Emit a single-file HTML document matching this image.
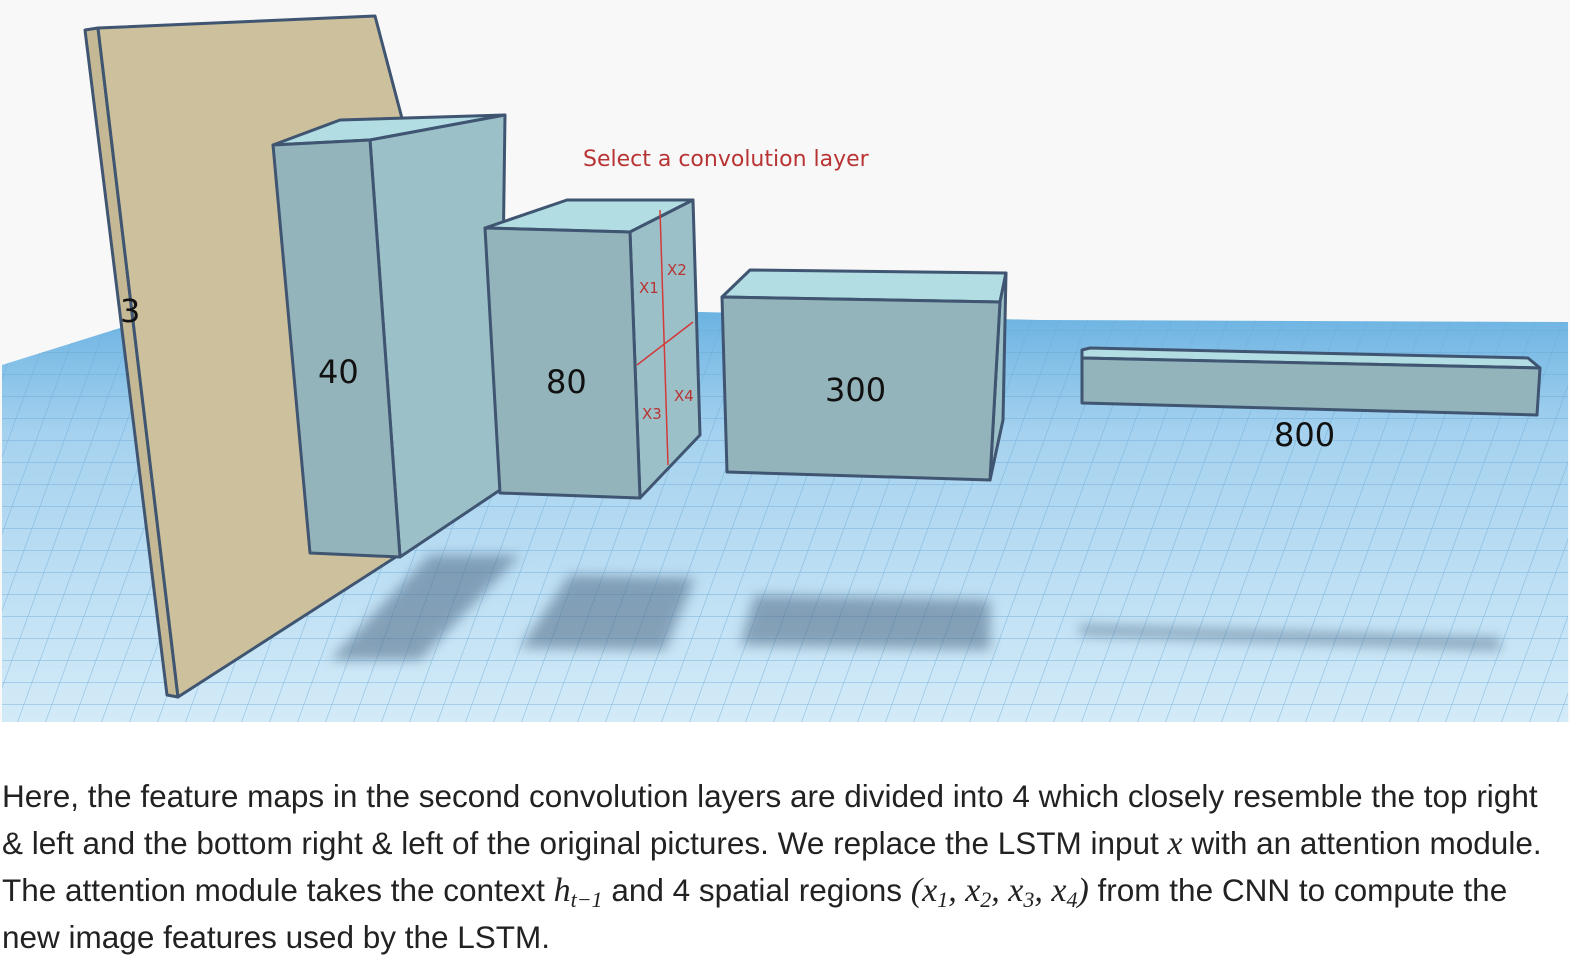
<!DOCTYPE html>
<html><head><meta charset="utf-8"><style>
body{margin:0;background:#fff;width:1592px;height:972px;overflow:hidden;font-family:"Liberation Sans",sans-serif}
.t{position:absolute;left:2px;top:773px;width:1590px;font-size:31.5px;line-height:47px;color:#222;white-space:nowrap}
i{font-family:"Liberation Serif",serif;font-size:34px}
sub{font-size:22px;line-height:0;vertical-align:-6px}
</style></head><body>
<svg width="1592" height="730" style="position:absolute;left:0;top:0">
<defs>
<linearGradient id="fl" x1="0" y1="0" x2="0" y2="1"><stop offset="0" stop-color="#6cb3e2"/><stop offset="0.3" stop-color="#a6d2ef"/><stop offset="1" stop-color="#d3ebf8"/></linearGradient>
<pattern id="gr" width="28" height="22" patternUnits="userSpaceOnUse" patternTransform="skewX(-20)"><path d="M0 0H28M0 0V22" stroke="#6aa9d6" stroke-width="1.2" fill="none" opacity="0.7"/></pattern>
<filter id="bl"><feGaussianBlur stdDeviation="6"/></filter>
</defs>
<rect x="0" y="0" width="1570" height="722" fill="#f8f8f8"/>
<polygon points="2,365 120,328 700,312 1040,320 1568,322 1568,722 2,722" fill="url(#fl)"/>
<polygon points="2,365 120,328 700,312 1040,320 1568,322 1568,722 2,722" fill="url(#gr)"/>
<g fill="#4f6a86" opacity="0.55" filter="url(#bl)">
<polygon points="430,555 520,555 420,660 330,660"/>
<polygon points="570,575 695,578 665,650 520,648"/>
<polygon points="755,595 990,600 990,650 740,645"/>
<polygon points="1080,625 1500,638 1500,650 1080,635"/>
</g>
<g stroke="#3f5571" stroke-width="3" stroke-linejoin="round">
<polygon points="85,30 98,28 178,697 167,695" fill="#c5b894"/>
<polygon points="98,28 375,16 500,490 178,697" fill="#cdc19d"/>
<polygon points="273,145 340,120 505,115 370,140" fill="#b2dde3"/>
<polygon points="370,140 505,115 500,490 400,557" fill="#9cc0c8"/>
<polygon points="273,145 370,140 400,557 310,553" fill="#93b4bb"/>
<polygon points="485,228 567,200 693,200 630,232" fill="#b2dde3"/>
<polygon points="630,232 693,200 700,435 640,498" fill="#9cc0c8"/>
<polygon points="485,228 630,232 640,498 500,493" fill="#93b4bb"/>
<polygon points="722,297 750,270 1006,273 1000,302" fill="#b2dde3"/>
<polygon points="1000,302 1006,273 1003,420 990,480" fill="#9cc0c8"/>
<polygon points="722,297 1000,302 990,480 727,472" fill="#93b4bb"/>
<polygon points="1082,350 1090,348 1528,358 1540,368 1082,358" fill="#b2dde3"/>
<polygon points="1082,358 1540,368 1537,415 1082,403" fill="#93b4bb"/>
</g>
<g stroke="#d23a3a" stroke-width="1.5"><line x1="660" y1="210" x2="668" y2="465"/><line x1="637" y1="365" x2="693" y2="322"/></g>
<g font-family="'DejaVu Sans',sans-serif" fill="#111" font-size="32">
<text x="120" y="322">3</text><text x="318" y="383">40</text><text x="546" y="393">80</text><text x="825" y="401">300</text><text x="1274" y="446">800</text></g>
<g font-family="'DejaVu Sans',sans-serif" fill="#b83434" font-size="15">
<text x="639" y="293">X1</text><text x="667" y="275">X2</text><text x="642" y="419">X3</text><text x="674" y="401">X4</text>
<text x="583" y="166" font-size="22">Select a convolution layer</text></g>
</svg>
<div class="t">Here, the feature maps in the second convolution layers are divided into 4 which closely resemble the top right<br>&amp; left and the bottom right &amp; left of the original pictures. We replace the LSTM input <i>x</i> with an attention module.<br>The attention module takes the context <i>h<sub>t−1</sub></i> and 4 spatial regions <i>(x<sub>1</sub>, x<sub>2</sub>, x<sub>3</sub>, x<sub>4</sub>)</i> from the CNN to compute the<br>new image features used by the LSTM.</div>
</body></html>
